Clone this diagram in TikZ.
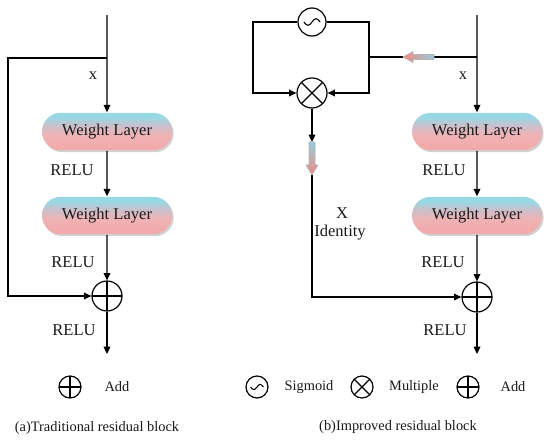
\documentclass[tikz,border=0pt]{standalone}
\usepackage{fontspec}
\setmainfont{Liberation Serif}
\usetikzlibrary{arrows.meta,shadows,shapes.misc}
\definecolor{wlblue}{RGB}{152,216,228}
\definecolor{wlmid}{RGB}{206,190,200}
\definecolor{wlpinkb}{RGB}{240,178,180}
\definecolor{wlpink}{RGB}{242,168,168}
\definecolor{txt}{RGB}{25,25,25}
\definecolor{gablue}{RGB}{150,205,222}
\definecolor{gapink}{RGB}{240,138,128}
\pgfdeclareverticalshading{wlshade}{100bp}{color(0bp)=(wlpink); color(25bp)=(wlpink); color(45bp)=(wlpinkb); color(57bp)=(wlmid); color(69bp)=(wlblue); color(100bp)=(wlblue)}
\begin{document}
\begin{tikzpicture}[x=0.75pt,y=-0.75pt,
  line width=0.9pt,
  arr/.style={-{Triangle[length=5.5pt,width=5pt]}},
  wlayer/.style={rounded rectangle, minimum width=97.5pt, minimum height=28pt, inner sep=0pt, shade, shading=wlshade, drop shadow={shadow xshift=1.2pt, shadow yshift=-1.5pt, opacity=0.3, fill=black!60}, font=\fontsize{12.4}{14}\selectfont, text=txt},
  lbl/.style={font=\fontsize{12.4}{14}\selectfont, text=txt, inner sep=0pt},
  small/.style={font=\fontsize{10.8}{13}\selectfont, text=txt, inner sep=0pt},
  addc/.style={circle, draw, minimum size=#1, inner sep=0pt, path picture={\draw[line width=0.9pt] (path picture bounding box.north) -- (path picture bounding box.south) (path picture bounding box.west) -- (path picture bounding box.east);}},
  mulc/.style={circle, draw, minimum size=#1, inner sep=0pt, path picture={\draw[line width=0.9pt] (path picture bounding box.north west) -- (path picture bounding box.south east) (path picture bounding box.south west) -- (path picture bounding box.north east);}},
  sigc/.style={circle, draw, minimum size=#1*10pt, inner sep=0pt, path picture={\draw[line width=0.8pt, shift={(path picture bounding box.center)}, x=#1pt, y=#1pt] (-2.9,0) sin (-1.45,-1.2) cos (0,0) sin (1.45,1.2) cos (2.9,0);}},
  garrow/.style={draw=black!30, line width=0.4pt}
]
\useasboundingbox (0,0) rectangle (550,443);

% ---------- left block ----------
\coordinate (lt) at (107,15);
\coordinate (lbr) at (107,58);
\coordinate (lc1) at (8,58);
\coordinate (lc2) at (8,296);
\coordinate (lend) at (107,354);
\node[wlayer] (lw1) at (107,131.5) {Weight Layer};
\node[wlayer] (lw2) at (107,215.5) {Weight Layer};
\node[addc=22.5pt] (ladd) at (107,296) {};

\draw[arr] (lt) -- (lw1);
\draw[arr] (lw1) -- (lw2);
\draw[arr] (lw2) -- (ladd);
\draw[arr] (ladd) -- (lend);
\draw[arr] (lbr) -- (lc1) -- (lc2) -- (ladd);

\node[lbl] (lx) at (93,76) {x};
\node[lbl] (lr1) at (72,170) {RELU};
\node[lbl] (lr2) at (73,262) {RELU};
\node[lbl] (lr3) at (74,330) {RELU};

% ---------- right block ----------
\coordinate (rt) at (477,15);
\coordinate (rbr) at (477,57);
\coordinate (rjm) at (369,57);
\coordinate (rju) at (369,22);
\coordinate (rjd) at (369,93);
\coordinate (rlu) at (253,22);
\coordinate (rld) at (253,93);
\coordinate (gatip) at (403,57);
\coordinate (gatail) at (434,57);
\coordinate (gdtop) at (312,142);
\coordinate (gdtip) at (312,175);
\coordinate (rcor) at (312,297);
\coordinate (rend) at (477,354);

\node[sigc=2.1] (sig) at (312,22) {};
\node[mulc=22.5pt] (mul) at (312,93) {};
\node[wlayer] (rw1) at (477,131.5) {Weight Layer};
\node[wlayer] (rw2) at (477,215.5) {Weight Layer};
\node[addc=22.5pt] (radd) at (477,297) {};

\draw[arr] (rt) -- (rw1);
\draw[arr] (rw1) -- (rw2);
\draw[arr] (rw2) -- (radd);
\draw[arr] (radd) -- (rend);
\draw (rbr) -- (gatail);
\draw (gatip) -- (rjm);
\draw[arr] (sig) -- (rju) -- (rjd) -- (mul);
\draw[arr] (sig) -- (rlu) -- (rld) -- (mul);
\draw[arr] (mul) -- (gdtop);
\draw[arr] (gdtip) -- (rcor) -- (radd);

% gradient arrows
\path[garrow, left color=gapink, right color=gablue] (gatip) -- (413,51.5) -- (413,54.5) -- (434,54.5) -- (434,59.5) -- (413,59.5) -- (413,62.5) -- cycle;
\path[garrow, top color=gablue, bottom color=gapink] (309,142) -- (315,142) -- (315,165) -- (318,165) -- (gdtip) -- (306,165) -- (309,165) -- cycle;

\node[lbl] (rx) at (463,76) {x};
\node[lbl] (rr1) at (444,170) {RELU};
\node[lbl] (rX) at (342,213) {X};
\node[lbl] (rid) at (340,233) {Identity};
\node[lbl] (rr2) at (443,262) {RELU};
\node[lbl] (rr3) at (445,330) {RELU};

% ---------- legends ----------
\node[addc=16.5pt] (lgadd) at (70,387) {};
\node[small] (lgaddt) at (117,387) {Add};
\node[sigc=1.65] (rgsig) at (257,387) {};
\node[small] (rgsigt) at (309,387) {Sigmoid};
\node[mulc=16.5pt] (rgmul) at (362,387) {};
\node[small] (rgmult) at (414,387) {Multiple};
\node[addc=16.5pt] (rgadd) at (468,387) {};
\node[small] (rgaddt) at (513,387) {Add};

% ---------- captions ----------
\node[small] (capa) at (97,428) {(a)Traditional residual block};
\node[small] (capb) at (398,427) {(b)Improved residual block};
\end{tikzpicture}
\end{document}
